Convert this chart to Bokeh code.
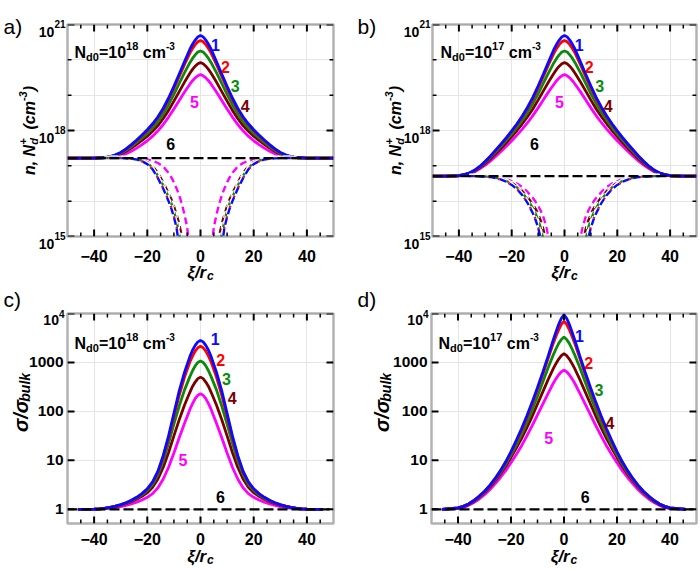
import math
import numpy as np
from bokeh.plotting import figure
from bokeh.models import Range1d, LogScale, Label, BoxAnnotation
from bokeh.layouts import column, row
from bokeh.embed import file_html
from bokeh.resources import INLINE

# ---------------- data (log10 values; curves are symmetric in xi) ----------------
x_half_ab = [0, 1, 2, 3, 4, 6, 8, 10, 12, 14, 16, 18, 20, 22, 24, 26, 28, 30, 32, 34, 36, 38, 40, 45, 50]
x_half_cd = [0, 1, 2, 3, 4, 6, 8, 10, 12, 14, 16, 18, 20, 22, 24, 26, 28, 30, 32, 34, 36, 38, 40, 46]
x_half_dash = [3, 4, 5, 6, 7, 8, 9, 10, 11, 12, 14, 16, 18, 20, 22, 24, 26, 28, 30, 32, 34, 36]

# panel a: Nd0 = 1e18, log10(n) solid curves 1..5
a_curve1 = [20.69, 20.65, 20.56, 20.44, 20.30, 19.95, 19.60, 19.25, 18.92, 18.63, 18.39, 18.19, 18.02, 17.87, 17.73, 17.60, 17.48, 17.38, 17.31, 17.26, 17.24, 17.23, 17.22, 17.22, 17.22]
a_curve2 = [20.55, 20.51, 20.43, 20.32, 20.19, 19.87, 19.53, 19.19, 18.87, 18.59, 18.36, 18.16, 17.99, 17.85, 17.71, 17.58, 17.47, 17.37, 17.30, 17.26, 17.24, 17.23, 17.22, 17.22, 17.22]
a_curve3 = [20.25, 20.22, 20.14, 20.04, 19.92, 19.64, 19.33, 19.02, 18.73, 18.47, 18.25, 18.07, 17.92, 17.79, 17.66, 17.54, 17.44, 17.35, 17.29, 17.25, 17.23, 17.22, 17.22, 17.22, 17.22]
a_curve4 = [19.92, 19.89, 19.82, 19.73, 19.62, 19.37, 19.10, 18.83, 18.57, 18.34, 18.14, 17.98, 17.84, 17.72, 17.61, 17.50, 17.41, 17.33, 17.28, 17.25, 17.23, 17.22, 17.22, 17.22, 17.22]
a_curve5 = [19.58, 19.55, 19.49, 19.41, 19.31, 19.09, 18.85, 18.61, 18.38, 18.17, 17.99, 17.84, 17.71, 17.60, 17.50, 17.41, 17.34, 17.29, 17.25, 17.23, 17.22, 17.22, 17.22, 17.22, 17.22]
a_dash1 = [11.0, 11.8, 12.6, 13.5, 14.1, 14.7, 15.25, 15.55, 15.8, 16.0, 16.35, 16.65, 16.9, 17.05, 17.13, 17.18, 17.2, 17.21, 17.22, 17.22, 17.22, 17.22]
a_dash2 = [11.05, 11.85, 12.65, 13.55, 14.15, 14.75, 15.3, 15.58, 15.82, 16.02, 16.37, 16.66, 16.9, 17.05, 17.13, 17.18, 17.2, 17.21, 17.22, 17.22, 17.22, 17.22]
a_dash3 = [11.5, 12.3, 13.1, 13.8, 14.4, 15.05, 15.45, 15.72, 15.95, 16.12, 16.45, 16.72, 16.95, 17.08, 17.15, 17.19, 17.21, 17.22, 17.22, 17.22, 17.22, 17.22]
a_dash4 = [12.0, 12.8, 13.6, 14.3, 15.0, 15.35, 15.62, 15.86, 16.06, 16.22, 16.53, 16.8, 16.99, 17.1, 17.16, 17.19, 17.21, 17.22, 17.22, 17.22, 17.22, 17.22]
a_dash5 = [13.8, 14.6, 15.25, 15.62, 15.92, 16.16, 16.36, 16.53, 16.68, 16.8, 16.98, 17.08, 17.14, 17.18, 17.2, 17.21, 17.22, 17.22, 17.22, 17.22, 17.22, 17.22]
a_line6 = [17.22, 17.22]

# panel b: Nd0 = 1e17
b_curve1 = [20.69, 20.65, 20.56, 20.44, 20.30, 19.95, 19.60, 19.26, 18.94, 18.66, 18.41, 18.19, 17.99, 17.80, 17.62, 17.45, 17.28, 17.13, 16.99, 16.88, 16.80, 16.755, 16.725, 16.71, 16.71]
b_curve2 = [20.55, 20.51, 20.43, 20.32, 20.19, 19.87, 19.53, 19.20, 18.89, 18.62, 18.38, 18.17, 17.97, 17.79, 17.61, 17.44, 17.27, 17.12, 16.98, 16.87, 16.795, 16.75, 16.72, 16.71, 16.71]
b_curve3 = [20.25, 20.22, 20.14, 20.04, 19.92, 19.64, 19.34, 19.04, 18.76, 18.51, 18.29, 18.09, 17.90, 17.73, 17.56, 17.40, 17.24, 17.10, 16.97, 16.86, 16.79, 16.75, 16.72, 16.71, 16.71]
b_curve4 = [19.92, 19.89, 19.82, 19.73, 19.62, 19.38, 19.12, 18.86, 18.61, 18.39, 18.19, 18.00, 17.83, 17.66, 17.50, 17.35, 17.20, 17.07, 16.95, 16.85, 16.78, 16.74, 16.72, 16.71, 16.71]
b_curve5 = [19.58, 19.55, 19.49, 19.41, 19.31, 19.10, 18.87, 18.64, 18.42, 18.22, 18.04, 17.87, 17.71, 17.56, 17.41, 17.27, 17.14, 17.02, 16.92, 16.83, 16.77, 16.735, 16.715, 16.71, 16.71]
b_dash1 = [11.0, 11.8, 12.6, 13.4, 14.0, 14.5, 14.95, 15.25, 15.48, 15.66, 15.95, 16.17, 16.34, 16.46, 16.55, 16.61, 16.65, 16.68, 16.69, 16.70, 16.71, 16.71]
b_dash2 = [11.05, 11.85, 12.65, 13.45, 14.05, 14.55, 15.0, 15.28, 15.5, 15.68, 15.96, 16.18, 16.35, 16.46, 16.55, 16.61, 16.65, 16.68, 16.69, 16.70, 16.71, 16.71]
b_dash3 = [11.5, 12.3, 13.1, 13.8, 14.4, 14.9, 15.25, 15.48, 15.66, 15.81, 16.05, 16.24, 16.39, 16.5, 16.57, 16.63, 16.66, 16.68, 16.7, 16.7, 16.71, 16.71]
b_dash4 = [12.0, 12.8, 13.6, 14.3, 14.85, 15.2, 15.45, 15.64, 15.79, 15.91, 16.12, 16.29, 16.42, 16.52, 16.59, 16.64, 16.67, 16.69, 16.7, 16.71, 16.71, 16.71]
b_dash5 = [12.6, 13.5, 14.3, 14.95, 15.3, 15.55, 15.73, 15.87, 15.99, 16.09, 16.26, 16.4, 16.5, 16.57, 16.62, 16.66, 16.68, 16.7, 16.71, 16.71, 16.71, 16.71]
b_line6 = [16.71, 16.71]

# panel c: Nd0 = 1e18, log10(sigma / sigma_bulk)
c_curve1 = [3.45, 3.42, 3.35, 3.25, 3.12, 2.80, 2.42, 1.96, 1.50, 1.10, 0.78, 0.56, 0.42, 0.32, 0.245, 0.185, 0.135, 0.095, 0.065, 0.04, 0.022, 0.01, 0.004, 0.0]
c_curve2 = [3.33, 3.30, 3.23, 3.13, 3.01, 2.70, 2.33, 1.90, 1.46, 1.07, 0.76, 0.55, 0.41, 0.315, 0.24, 0.18, 0.13, 0.092, 0.063, 0.039, 0.021, 0.01, 0.004, 0.0]
c_curve3 = [3.03, 3.00, 2.93, 2.83, 2.71, 2.44, 2.11, 1.74, 1.35, 0.99, 0.71, 0.51, 0.385, 0.295, 0.225, 0.17, 0.125, 0.088, 0.06, 0.037, 0.02, 0.009, 0.004, 0.0]
c_curve4 = [2.70, 2.67, 2.60, 2.51, 2.39, 2.13, 1.83, 1.50, 1.16, 0.86, 0.62, 0.45, 0.34, 0.265, 0.205, 0.155, 0.113, 0.08, 0.055, 0.034, 0.018, 0.008, 0.003, 0.0]
c_curve5 = [2.36, 2.33, 2.26, 2.16, 2.04, 1.76, 1.46, 1.15, 0.86, 0.62, 0.44, 0.32, 0.245, 0.19, 0.145, 0.108, 0.078, 0.055, 0.037, 0.023, 0.012, 0.005, 0.002, 0.0]
c_line6 = [0.0, 0.0]

# panel d: Nd0 = 1e17
d_curve1 = [3.97, 3.90, 3.78, 3.63, 3.47, 3.13, 2.80, 2.49, 2.19, 1.91, 1.65, 1.41, 1.18, 0.97, 0.79, 0.63, 0.49, 0.37, 0.27, 0.18, 0.11, 0.06, 0.03, 0.0]
d_curve2 = [3.84, 3.78, 3.67, 3.54, 3.40, 3.08, 2.76, 2.45, 2.15, 1.87, 1.61, 1.38, 1.16, 0.96, 0.78, 0.62, 0.48, 0.36, 0.26, 0.18, 0.11, 0.06, 0.03, 0.0]
d_curve3 = [3.52, 3.47, 3.39, 3.28, 3.16, 2.89, 2.60, 2.31, 2.03, 1.77, 1.53, 1.31, 1.11, 0.92, 0.75, 0.60, 0.47, 0.35, 0.25, 0.17, 0.11, 0.06, 0.03, 0.0]
d_curve4 = [3.18, 3.14, 3.07, 2.98, 2.88, 2.65, 2.40, 2.15, 1.90, 1.67, 1.45, 1.25, 1.06, 0.88, 0.72, 0.58, 0.45, 0.34, 0.24, 0.16, 0.10, 0.05, 0.02, 0.0]
d_curve5 = [2.84, 2.81, 2.75, 2.67, 2.58, 2.37, 2.15, 1.93, 1.71, 1.50, 1.30, 1.12, 0.95, 0.79, 0.65, 0.52, 0.40, 0.30, 0.21, 0.14, 0.08, 0.04, 0.02, 0.0]
d_line6 = [0.0, 0.0]

x_line6 = [-50, 50]

x_tick_values = [-40, -20, 0, 20, 40]
x_tick_labels = ["\u221240", "\u221220", "0", "20", "40"]
x_minor_values = [-45, -35, -30, -25, -15, -10, -5, 5, 10, 15, 25, 30, 35, 45]
ab_y_ticks = [15, 18, 21]              # log10 of the labelled ticks
ab_y_exponents = ["15", "18", "21"]
ab_y_minor = [16, 17, 19, 20]
cd_y_ticks = [0, 1, 2, 3, 4]           # log10 of the labelled ticks
cd_y_labels = ["1", "10", "100", "1000", None]

curve_names = ["1", "2", "3", "4", "5"]
curve_colors = ["#0a0aff", "#ff0000", "#0a8a0a", "#7a0000", "#ff00ff"]

# ---------------- helpers ----------------
FONT = "Liberation Sans"
CW = {'N': 722, 'd': 611, '=': 584, ' ': 278, 'c': 556, 'm': 889, '-': 333, '\u2212': 584,
      'n': 611, ',': 278, '(': 333, ')': 333, '+': 584, '/': 278, 'r': 389, 'b': 611,
      'u': 611, 'l': 278, 'k': 556, '\u03c3': 620, '\u03be': 500, 'a': 556}


def tw(s, size):
    return sum(CW.get(ch, 556) for ch in s) * size / 1000.0


class Panel:
    def __init__(self, W, H, L, R, T, B, ylo, yhi):
        self.W, self.H, self.L, self.R, self.T, self.B = W, H, L, R, T, B
        self.ylo, self.yhi = ylo, yhi
        self.s = 100.0 / (R - L)                  # x units per px
        self.d = (yhi - ylo) / float(B - T)        # decades per px
        x0 = -50 - L * self.s
        x1 = 50 + (W - R) * self.s
        y0 = 10 ** (ylo - (H - B) * self.d)
        y1 = 10 ** (yhi + T * self.d)
        p = figure(width=W, height=H, x_range=Range1d(x0, x1), y_range=Range1d(y0, y1),
                   x_axis_location=None, y_axis_location=None, y_axis_type="log",
                   output_backend="svg", toolbar_location=None,
                   min_border=0, min_border_left=0, min_border_right=0,
                   min_border_top=0, min_border_bottom=0)
        p.y_scale = LogScale()
        p.outline_line_color = None
        p.background_fill_color = "white"
        p.border_fill_color = "white"
        self.p = p

    def ytop(self, logv):
        return self.T + (self.yhi - logv) / self.d

    def label(self, x, ytop, text, size, style="bold", align="left", baseline="alphabetic",
              color="black", angle=0.0, x_units="screen"):
        self.p.add_layout(Label(x=x, y=self.H - ytop, x_units=x_units, y_units="screen",
                                text=text, text_font=FONT, text_font_size=f"{size}px",
                                text_font_style=style, text_color=color, angle=angle,
                                text_align=align, text_baseline=baseline))

    def rich(self, pieces, x, ytop, angle=0.0, style="bold"):
        # pieces: (text, size, rise_px, advance) ; advance True -> text width, number -> that gap
        off = 0.0
        for text, size, rise, adv in pieces:
            if text:
                if angle == 0:
                    self.label(x + off, ytop - rise, text, size, style=style)
                else:
                    self.label(x - rise, ytop - off, text, size, style=style, angle=angle)
            if adv is True:
                off += tw(text, size)
            elif adv:
                off += adv

    def masks_and_frame(self):
        W, H, L, R, T, B = self.W, self.H, self.L, self.R, self.T, self.B
        for (l, r, b, t) in [(0, W, 0, H - B), (0, W, H - T, H), (0, L, 0, H), (R, W, 0, H)]:
            self.p.add_layout(BoxAnnotation(left=l, right=r, bottom=b, top=t,
                                            left_units="screen", right_units="screen",
                                            bottom_units="screen", top_units="screen",
                                            fill_color="white", fill_alpha=1.0,
                                            line_color=None))
        self.p.add_layout(BoxAnnotation(left=L, right=R, bottom=H - B, top=H - T,
                                        left_units="screen", right_units="screen",
                                        bottom_units="screen", top_units="screen",
                                        fill_alpha=0.0, line_color="black", line_width=2.5))

    def ticks(self, y_major, y_minor):
        p = self.p
        for vals, ln, lw in [(x_tick_values, 7, 2.0), (x_minor_values, 4, 1.5)]:
            xs = np.array(vals, float)
            lo = np.full_like(xs, 10 ** self.ylo)
            hi = np.full_like(xs, 10 ** self.yhi)
            p.segment(xs, lo, xs, lo * 10 ** (ln * self.d), line_color="black", line_width=lw)
            p.segment(xs, hi, xs, hi / 10 ** (ln * self.d), line_color="black", line_width=lw)
        for vals, ln, lw in [(y_major, 7, 2.0), (y_minor, 4, 1.5)]:
            if not vals:
                continue
            ys = 10.0 ** np.array(vals, float)
            left = np.full_like(ys, -50.0)
            right = np.full_like(ys, 50.0)
            p.segment(left, ys, left + ln * self.s, ys, line_color="black", line_width=lw)
            p.segment(right, ys, right - ln * self.s, ys, line_color="black", line_width=lw)

    def x_tick_labels(self, dy):
        for v, t in zip(x_tick_values, x_tick_labels):
            self.label(v, self.B + dy, t, 16, align="center", baseline="middle", x_units="data")

    def xi_title(self, dy):
        pieces = [("\u03be/r", 17, 0, True), ("c", 12, -3, True)]
        total = sum(tw(t, s) for t, s, _, _ in pieces)
        self.rich(pieces, (self.L + self.R) / 2.0 - total / 2.0, self.B + dy, style="bold italic")

    def nd0(self, x, ytop, exp):
        self.rich([("N", 16, 0, True), ("d0", 11, -4, True), ("=10", 16, 0, True),
                   (exp, 11, 7, True), ("", 0, 0, 4.5), ("cm", 16, 0, True), ("-3", 10, 7, True)],
                  x, ytop)


def mirror(xh, yh):
    xs = [-v for v in reversed(xh[1:])] + list(xh)
    ys = list(reversed(yh[1:])) + list(yh)
    return np.array(xs, float), 10.0 ** np.array(ys, float)


def draw_solids(p, xh, curves):
    for yh, col in reversed(list(zip(curves, curve_colors))):
        xs, ys = mirror(xh, yh)
        p.line(xs, ys, line_color=col, line_width=2.8)


def draw_dashed(p, xh, curves):
    for yh, col in reversed(list(zip(curves, curve_colors))):
        xr = np.array(xh, float)
        yr = 10.0 ** np.array(yh, float)
        for xs in (xr, -xr):
            p.line(xs, yr, line_color="white", line_width=4.5, line_dash="7 4")
            p.line(xs, yr, line_color=col, line_width=2.4, line_dash="7 4")


def draw_line6(p, ylog):
    p.line(x_line6, 10.0 ** np.array(ylog, float), line_color="black", line_width=2.2,
           line_dash="10 4")


def number_labels(p, pos):
    cols = curve_colors + ["black"]
    for (xv, ylog), txt, col in zip(pos, curve_names + ["6"], cols):
        p.add_layout(Label(x=xv, y=10.0 ** ylog, text=txt, text_font=FONT, text_font_size="16px",
                           text_font_style="bold", text_color=col, text_align="center",
                           text_baseline="middle"))


def ab_y_labels(P):
    for lv, ex in zip(ab_y_ticks, ab_y_exponents):
        ty = P.ytop(lv)
        supw = tw(ex, 10)
        P.label(P.L - 2, ty - 0.5, ex, 10, align="right")
        P.label(P.L - 2 - supw, ty + 7.5, "10", 14, align="right")


def cd_y_labels_draw(P):
    for lv, t in zip(cd_y_ticks, cd_y_labels):
        ty = P.ytop(lv)
        if t is not None:
            P.label(P.L - 4, ty, t, 15.5, align="right", baseline="middle")
        else:
            supw = tw("4", 10)
            P.label(P.L - 3, ty, "4", 10, align="right")
            P.label(P.L - 3 - supw, ty + 6, "10", 14, align="right")


def y_title_ab(P, xb):
    pieces = [("n, N", 16, 0, True), ("d", 11, -4, False), ("+", 11, 7, True), ("", 0, 0, 8.9),
              ("(cm", 16, 0, True), ("-3", 11, 7, True), (")", 16, 0, True)]
    total = tw("n, N", 16) + tw("+", 11) + 8.9 + tw("(cm", 16) + tw("-3", 11) + tw(")", 16)
    yc = (P.T + P.B) / 2.0
    P.rich(pieces, xb, yc + total / 2.0, angle=math.pi / 2, style="bold italic")


def y_title_cd(P, xb, yc):
    pieces = [("\u03c3/\u03c3", 20, 0, True), ("bulk", 14, -4, True)]
    total = tw("\u03c3/\u03c3", 20) + tw("bulk", 14)
    P.rich(pieces, xb, yc + total / 2.0, angle=math.pi / 2, style="bold italic")


# ---------------- panels ----------------
A = Panel(350, 282, 67, 333, 24, 236, 15.0, 21.0)
Bp = Panel(348, 282, 82, 346, 24, 236, 15.0, 21.0)
C = Panel(350, 285, 67, 333, 31, 241, -0.29, 4.0)
D = Panel(348, 285, 81, 346, 31, 241, -0.29, 4.0)

# data marks
draw_solids(A.p, x_half_ab, [a_curve1, a_curve2, a_curve3, a_curve4, a_curve5])
draw_dashed(A.p, x_half_dash, [a_dash1, a_dash2, a_dash3, a_dash4, a_dash5])
draw_line6(A.p, a_line6)
draw_solids(Bp.p, x_half_ab, [b_curve1, b_curve2, b_curve3, b_curve4, b_curve5])
draw_dashed(Bp.p, x_half_dash, [b_dash1, b_dash2, b_dash3, b_dash4, b_dash5])
draw_line6(Bp.p, b_line6)
draw_solids(C.p, x_half_cd, [c_curve1, c_curve2, c_curve3, c_curve4, c_curve5])
draw_line6(C.p, c_line6)
draw_solids(D.p, x_half_cd, [d_curve1, d_curve2, d_curve3, d_curve4, d_curve5])
draw_line6(D.p, d_line6)

for P in (A, Bp):
    P.ticks(ab_y_ticks, ab_y_minor)
for P in (C, D):
    P.ticks(cd_y_ticks, [])

for P in (A, Bp, C, D):
    P.masks_and_frame()

# texts
number_labels(A.p, [(5.6, 20.43), (9.4, 19.79), (13.0, 19.26), (16.8, 18.68), (-2.25, 18.80), (-11.25, 17.62)])
number_labels(Bp.p, [(5.6, 20.43), (9.4, 19.79), (13.3, 19.26), (16.6, 18.68), (-1.9, 18.80), (-11.4, 17.62)])
number_labels(C.p, [(5.5, 3.47), (7.6, 3.04), (9.8, 2.67), (11.9, 2.27), (-6.6, 1.0), (7.5, 0.26)])
number_labels(D.p, [(5.8, 3.54), (9.3, 2.99), (13.2, 2.43), (17.3, 1.77), (-5.75, 1.45), (8.0, 0.26)])

A.nd0(74, 52, "18")
Bp.nd0(90, 52, "17")
C.nd0(74, 61, "18")
D.nd0(88, 61, "17")

ab_y_labels(A)
ab_y_labels(Bp)
cd_y_labels_draw(C)
cd_y_labels_draw(D)

for P in (A, Bp):
    P.x_tick_labels(19.5)
    P.xi_title(36)
for P in (C, D):
    P.x_tick_labels(15.5)
    P.xi_title(33)

y_title_ab(A, 29)
y_title_ab(Bp, 45)
y_title_cd(C, 20, 120)
y_title_cd(D, 31, 120)

A.label(3, 26, "a)", 21, style="normal")
Bp.label(7, 26, "b)", 21, style="normal")
C.label(3, 17, "c)", 21, style="normal")
D.label(7, 17, "d)", 21, style="normal")

layout = column(row(A.p, Bp.p), row(C.p, D.p))
open("out.html", "w").write(file_html(layout, INLINE, title="plot"))
